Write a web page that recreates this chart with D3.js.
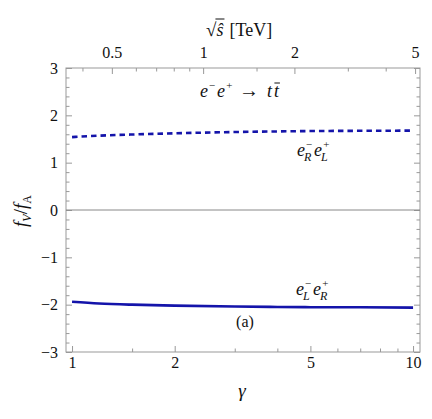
<!DOCTYPE html>
<html>
<head>
<meta charset="utf-8">
<script src="https://cdn.jsdelivr.net/npm/d3@7"></script>
<style>
  body { margin: 0; background: #fff; }
  svg text { font-family: "Liberation Serif", "DejaVu Serif", "Times New Roman", serif; fill: #111; }
</style>
</head>
<body>
<div id="chart"></div>
<script>
// values
var gammaVals = [1, 1.2, 1.5, 2, 3, 4, 5, 7, 10];
var ratioRL = [1.54, 1.57, 1.595, 1.62, 1.648, 1.66, 1.668, 1.673, 1.677];
var ratioLR = [-1.94, -1.975, -2.0, -2.02, -2.04, -2.048, -2.053, -2.056, -2.062];

var yTicks = [-3, -2, -1, 0, 1, 2, 3];
var gammaTicks = [1, 2, 5, 10];
var gammaMinor = [1.5, 3, 4, 6, 7, 8, 9];
var sqrtsTicks = [0.5, 1, 2, 5];
var sqrtsMinor = [0.4, 0.6, 0.7, 0.8, 0.9, 1.5, 3, 4];

var svgWidth = 432;
var svgHeight = 419;
var margin = { top: 68, right: 12, bottom: 67, left: 66 };
var width = svgWidth - margin.left - margin.right;
var height = svgHeight - margin.top - margin.bottom;
var serif = "Liberation Serif, DejaVu Serif, serif";

var svg = d3.select("#chart")
  .append("svg")
  .attr("width", svgWidth)
  .attr("height", svgHeight)
  .attr("font-family", serif);

var chartGroup = svg.append("g")
  .attr("transform", `translate(${margin.left}, ${margin.top})`);

var xScale = d3.scaleLog().domain([0.96, 10.48]).range([0, width]);
var topScale = d3.scaleLog().domain([0.353, 5.19]).range([0, width]);
var yScale = d3.scaleLinear().domain([-3, 3]).range([height, 0]);

var yMinor = d3.range(-3, 3.001, 0.2).map(d => Math.round(d * 10) / 10)
  .filter(d => Math.abs(d - Math.round(d)) > 0.01);

var tickColor = "#999";

function styleAxis(g) {
  g.attr("font-family", serif);
  g.select(".domain").remove();
  g.selectAll(".tick line").attr("stroke", tickColor);
  g.selectAll(".tick text").attr("font-size", 16).attr("fill", "#111");
}

// left axis (ticks point inward)
chartGroup.append("g")
  .call(d3.axisLeft(yScale).tickValues(yTicks).tickSizeInner(-6).tickSizeOuter(0)
    .tickPadding(8).tickFormat(d => d < 0 ? "\u2212" + Math.abs(d) : d))
  .call(styleAxis);
chartGroup.append("g")
  .call(d3.axisLeft(yScale).tickValues(yMinor).tickSizeInner(-3.5).tickSizeOuter(0).tickFormat(""))
  .call(styleAxis);

// right axis mirror
chartGroup.append("g")
  .attr("transform", `translate(${width},0)`)
  .call(d3.axisRight(yScale).tickValues(yTicks).tickSizeInner(-6).tickSizeOuter(0).tickFormat(""))
  .call(styleAxis);
chartGroup.append("g")
  .attr("transform", `translate(${width},0)`)
  .call(d3.axisRight(yScale).tickValues(yMinor).tickSizeInner(-3.5).tickSizeOuter(0).tickFormat(""))
  .call(styleAxis);

// bottom axis gamma
chartGroup.append("g")
  .attr("transform", `translate(0, ${height})`)
  .call(d3.axisBottom(xScale).tickValues(gammaTicks).tickSizeInner(-6).tickSizeOuter(0)
    .tickPadding(5).tickFormat(d3.format("d")))
  .call(styleAxis);
chartGroup.append("g")
  .attr("transform", `translate(0, ${height})`)
  .call(d3.axisBottom(xScale).tickValues(gammaMinor).tickSizeInner(-3.5).tickSizeOuter(0).tickFormat(""))
  .call(styleAxis);

// top axis sqrt(s)
chartGroup.append("g")
  .call(d3.axisTop(topScale).tickValues(sqrtsTicks).tickSizeInner(-6).tickSizeOuter(0)
    .tickPadding(10).tickFormat(d => d))
  .call(styleAxis);
chartGroup.append("g")
  .call(d3.axisTop(topScale).tickValues(sqrtsMinor).tickSizeInner(-3.5).tickSizeOuter(0).tickFormat(""))
  .call(styleAxis);

// frame
chartGroup.append("rect")
  .attr("width", width)
  .attr("height", height)
  .attr("fill", "none")
  .attr("stroke", tickColor)
  .attr("stroke-width", 1);

// zero line
chartGroup.append("line")
  .attr("x1", 0).attr("x2", width)
  .attr("y1", yScale(0)).attr("y2", yScale(0))
  .attr("stroke", "#888")
  .attr("stroke-width", 1);

var lineGen = d3.line()
  .x(d => xScale(d[0]))
  .y(d => yScale(d[1]))
  .curve(d3.curveMonotoneX);

var curveColor = "#1414aa";

chartGroup.append("path")
  .datum(d3.zip(gammaVals, ratioRL))
  .attr("d", lineGen)
  .attr("fill", "none")
  .attr("stroke", curveColor)
  .attr("stroke-width", 2.6)
  .attr("stroke-dasharray", "5.5,4");

chartGroup.append("path")
  .datum(d3.zip(gammaVals, ratioLR))
  .attr("d", lineGen)
  .attr("fill", "none")
  .attr("stroke", curveColor)
  .attr("stroke-width", 2.6);

// italic text piece, returns its right edge
function it(x, y, s, size, upright) {
  var t = svg.append("text")
    .attr("x", x).attr("y", y)
    .attr("font-size", size || 17)
    .attr("font-style", upright ? "normal" : "italic")
    .text(s);
  return x + t.node().getComputedTextLength();
}

// e with stacked sub/sup, returns right edge
function eSubSup(x, y, sub, sup) {
  var r = it(x, y, "e", 18);
  var r1 = it(r + 0.5, y - 8, sup, 11);
  var r2 = it(r - 1, y + 5, sub, 12);
  return Math.max(r1, r2);
}

// process label e-e+ -> t tbar
var px = 200;
px = it(px, 97, "e", 18);
px = it(px + 0.5, 89, "\u2212", 11);
px = it(px + 1, 97, "e", 18);
px = it(px + 0.5, 89, "+", 11);
px = it(px + 6, 97, "\u2192", 20, true);
px = it(px + 8, 97, "t", 18);
var tbx = px + 2;
px = it(tbx, 97, "t", 18);
svg.append("line")
  .attr("x1", tbx + 0.5).attr("x2", px + 1)
  .attr("y1", 83).attr("y2", 83)
  .attr("stroke", "#111").attr("stroke-width", 1);

// e_R^- e_L^+
eSubSup(eSubSup(297, 156, "R", "\u2212") + 1, 156, "L", "+");
// e_L^- e_R^+
eSubSup(eSubSup(296, 295, "L", "\u2212") + 1, 295, "R", "+");

// (a)
svg.append("text")
  .attr("x", 245).attr("y", 327)
  .attr("text-anchor", "middle")
  .attr("font-size", 16)
  .text("(a)");

// bottom axis title
svg.append("text")
  .attr("x", 242).attr("y", 397)
  .attr("text-anchor", "middle")
  .attr("font-size", 19)
  .attr("font-style", "italic")
  .text("\u03b3");

// top axis title: sqrt(s-hat) [TeV]
var tx = 206;
tx = it(tx, 36, "\u221a", 19, true);
var sx = tx;
tx = it(sx, 36, "\u015d", 18);
svg.append("line")
  .attr("x1", sx - 1).attr("x2", tx + 1)
  .attr("y1", 19).attr("y2", 19)
  .attr("stroke", "#111").attr("stroke-width", 1);
it(tx + 6, 36, "[TeV]", 18, true);

// y axis title
var yTitle = svg.append("text")
  .attr("transform", "translate(27, 211) rotate(-90)")
  .attr("text-anchor", "middle")
  .attr("font-size", 19)
  .attr("font-style", "italic");
yTitle.append("tspan").text("f");
yTitle.append("tspan").attr("font-size", 12).attr("dy", 4).text("V");
yTitle.append("tspan").attr("dy", -4).attr("font-style", "normal").text("/");
yTitle.append("tspan").text("f");
yTitle.append("tspan").attr("font-size", 12).attr("dy", 4).attr("font-style", "normal").text("A");
</script>
</body>
</html>
